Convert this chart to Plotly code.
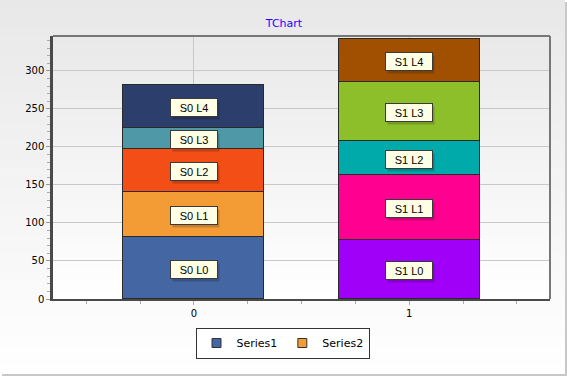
import plotly.graph_objects as go

# ---- data ----
categories = [0, 1]
level_names = ["L0", "L1", "L2", "L3", "L4"]
series0_values = [81, 60, 57, 27, 56]   # bar at x=0, levels L0..L4
series1_values = [77, 86, 45, 78, 56]   # bar at x=1, levels L0..L4
series0_colors = ["#4466a3", "#f39c35", "#f24e16", "#4e98a8", "#2c3e6b"]
series1_colors = ["#a000f8", "#ff0090", "#00aaaa", "#8cbf2a", "#a05000"]
legend_names = ["Series1", "Series2"]
legend_colors = ["#4466a3", "#f39c35"]

W, H = 567, 376
L, R, T, B = 53, 17, 36, 77
PW, PH = W - L - R, H - T - B

def px_x(px):
    return (px - L) / PW

def px_y(py):
    return (H - B - py) / PH

fig = go.Figure()

for i, lvl in enumerate(level_names):
    fig.add_trace(go.Bar(
        x=categories,
        y=[series0_values[i], series1_values[i]],
        width=0.654,
        marker=dict(color=[series0_colors[i], series1_colors[i]],
                    line=dict(color="#2a2a2a", width=1.2)),
        showlegend=False,
        hoverinfo="skip",
    ))

for name, col in zip(legend_names, legend_colors):
    fig.add_trace(go.Scatter(
        x=[None], y=[None], mode="markers", name=name,
        marker=dict(symbol="square", size=9, color=col,
                    line=dict(color="#333333", width=1)),
    ))

# ---- labels ----
annotations = []
for s, vals in enumerate([series0_values, series1_values]):
    cum = 0
    for i, v in enumerate(vals):
        mid = cum + v / 2
        cum += v
        txt = f"S{s} {level_names[i]}"
        annotations.append(dict(
            x=categories[s], y=mid, xref="x", yref="y", text="",
            showarrow=False, width=44, height=15, borderpad=1,
            bgcolor="rgba(0,0,0,0.18)", borderwidth=1,
            bordercolor="rgba(0,0,0,0)", xshift=2, yshift=-4,
        ))
        annotations.append(dict(
            x=categories[s], y=mid, xref="x", yref="y", text=txt,
            showarrow=False, width=44, height=15, borderpad=1,
            bgcolor="#ffffe6", bordercolor="#3a3a3a", borderwidth=1,
            yshift=-1,
            font=dict(family="Liberation Sans, Arial, sans-serif", size=11, color="#000000"),
        ))

# ---- background gradients ----
shapes = []
N = 40
def lerp(c0, c1, t):
    return tuple(round(a + (b - a) * t) for a, b in zip(c0, c1))

outer_top, outer_bot = (232, 232, 232), (255, 255, 255)
for k in range(N):
    y0p = k * 374 / N
    y1p = (k + 1) * 374 / N + 0.5
    c = lerp(outer_top, outer_bot, (k + 0.5) / N)
    shapes.append(dict(type="rect", xref="paper", yref="paper", layer="below",
                       x0=px_x(0), x1=px_x(565), y0=px_y(y1p), y1=px_y(y0p),
                       fillcolor="rgb(%d,%d,%d)" % c, line=dict(width=0)))
shapes.append(dict(type="rect", xref="paper", yref="paper", layer="below",
                   x0=px_x(565), x1=px_x(567), y0=px_y(376), y1=px_y(2),
                   fillcolor="#c8c8c8", line=dict(width=0)))
shapes.append(dict(type="rect", xref="paper", yref="paper", layer="below",
                   x0=px_x(2), x1=px_x(567), y0=px_y(376), y1=px_y(374),
                   fillcolor="#c8c8c8", line=dict(width=0)))

inner_top, inner_bot = (233, 233, 233), (255, 255, 255)
for k in range(N):
    c = lerp(inner_top, inner_bot, (k + 0.5) / N)
    shapes.append(dict(type="rect", xref="paper", yref="paper", layer="below",
                       x0=0, x1=1, y0=1 - (k + 1) / N - 0.002, y1=1 - k / N,
                       fillcolor="rgb(%d,%d,%d)" % c, line=dict(width=0)))

# top/right frame lines
shapes.append(dict(type="line", xref="paper", yref="paper", x0=0, x1=1, y0=1, y1=1,
                   line=dict(color="#777777", width=2)))
shapes.append(dict(type="line", xref="paper", yref="paper", x0=1, x1=1, y0=0, y1=1,
                   line=dict(color="#777777", width=2)))

fig.update_layout(
    width=W, height=H,
    margin=dict(l=L, r=R, t=T, b=B),
    paper_bgcolor="#ffffff",
    plot_bgcolor="rgba(0,0,0,0)",
    barmode="stack",
    bargap=0,
    title=dict(text="TChart", x=284 / W, xref="container",
               xanchor="center", y=1 - 23 / H, yanchor="middle",
               font=dict(family="DejaVu Sans, Verdana, sans-serif", size=11, color="#2a00ff")),
    font=dict(family="DejaVu Sans, Verdana, sans-serif", size=10, color="#000000"),
    showlegend=True,
    legend=dict(orientation="h", x=px_x(282.5), xanchor="center",
                y=px_y(343), yanchor="middle", traceorder="normal",
                bgcolor="#ffffff", bordercolor="#333333", borderwidth=1,
                font=dict(family="DejaVu Sans, Verdana, sans-serif", size=11, color="#000000"),
                itemwidth=30, tracegroupgap=0),
    annotations=annotations,
    shapes=shapes,
)

fig.update_xaxes(
    range=[-0.654, 1.654], tickmode="linear", tick0=0, dtick=1,
    showgrid=True, gridcolor="#c8c8c8", gridwidth=1,
    zeroline=False, showline=True, linecolor="#4a4a4a", linewidth=2,
    ticks="outside", ticklen=4, tickcolor="#aaaaaa", tickwidth=1,
    minor=dict(tick0=0, dtick=0.25, ticks="outside", ticklen=3,
               tickcolor="#aaaaaa", showgrid=False),
    tickfont=dict(size=10, color="#000000"),
)
fig.update_yaxes(
    range=[0, 346], tickmode="linear", tick0=0, dtick=50,
    showgrid=True, gridcolor="#c8c8c8", gridwidth=1,
    zeroline=False, showline=True, linecolor="#4a4a4a", linewidth=2.5,
    ticks="outside", ticklen=4, tickcolor="#999999", tickwidth=1,
    minor=dict(tick0=0, dtick=10, ticks="outside", ticklen=3,
               tickcolor="#aaaaaa", showgrid=False),
    tickfont=dict(size=10, color="#000000"),
)

fig.write_html("out.html", config={"displayModeBar": False},
               post_script="document.body.style.margin='0px';document.body.style.overflow='hidden';")
